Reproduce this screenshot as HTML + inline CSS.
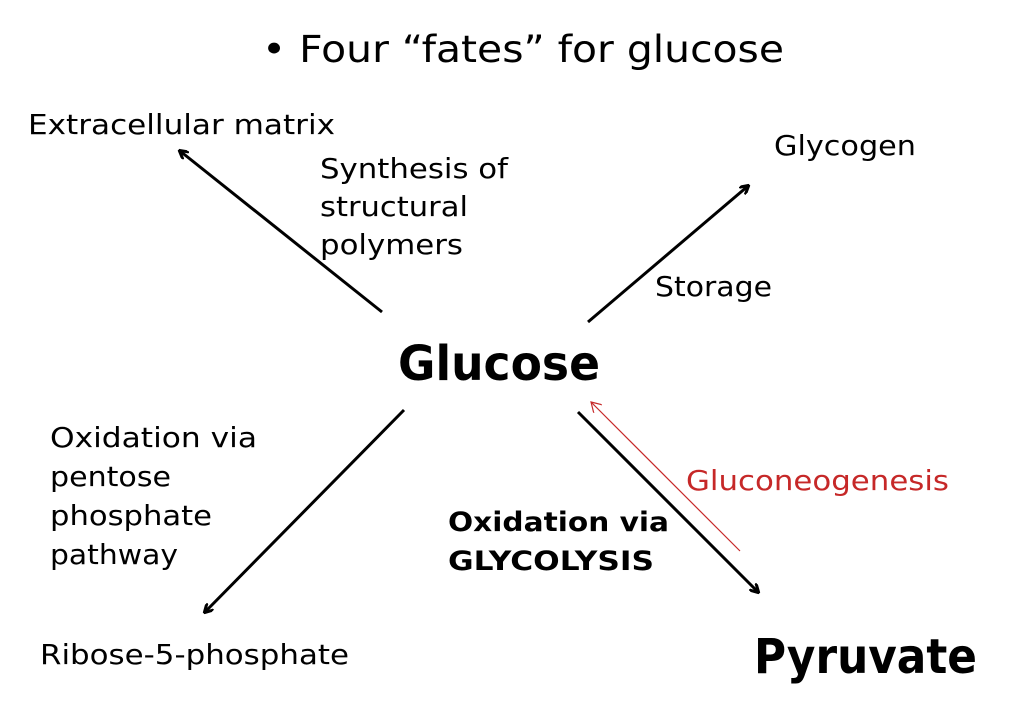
<!DOCTYPE html>
<html><head><style>body{margin:0;background:#fff}svg{display:block}text{font-family:"DejaVu Sans","Liberation Sans",sans-serif}</style></head>
<body>
<svg width="1024" height="704" viewBox="0 0 1024 704">
<defs>
<marker id="a" markerWidth="10" markerHeight="10" refX="8" refY="5" orient="auto" markerUnits="userSpaceOnUse"><path d="M0,0 L9,5 L0,10" fill="none" stroke="#000" stroke-width="3"/></marker>
<marker id="r" markerWidth="12" markerHeight="12" refX="10" refY="6" orient="auto" markerUnits="userSpaceOnUse"><path d="M0,0 L10,6 L0,12" fill="none" stroke="#c62828" stroke-width="1.2"/></marker>
</defs>
<text x="262" y="62" font-size="37" textLength="522" lengthAdjust="spacingAndGlyphs">• Four “fates” for glucose</text>
<text x="28" y="134" font-size="28" textLength="307" lengthAdjust="spacingAndGlyphs">Extracellular matrix</text>
<text x="320" y="178" font-size="28" textLength="188" lengthAdjust="spacingAndGlyphs">Synthesis of</text>
<text x="320" y="216" font-size="28" textLength="148" lengthAdjust="spacingAndGlyphs">structural</text>
<text x="320" y="254" font-size="28" textLength="143" lengthAdjust="spacingAndGlyphs">polymers</text>
<text x="774" y="155" font-size="28" textLength="142" lengthAdjust="spacingAndGlyphs">Glycogen</text>
<text x="655" y="296" font-size="28" textLength="117" lengthAdjust="spacingAndGlyphs">Storage</text>
<text x="398" y="380" font-size="48" font-weight="bold" textLength="202" lengthAdjust="spacingAndGlyphs">Glucose</text>
<text x="50" y="447" font-size="28" textLength="207" lengthAdjust="spacingAndGlyphs">Oxidation via</text>
<text x="50" y="486" font-size="28" textLength="121" lengthAdjust="spacingAndGlyphs">pentose</text>
<text x="50" y="525" font-size="28" textLength="162" lengthAdjust="spacingAndGlyphs">phosphate</text>
<text x="50" y="564" font-size="28" textLength="128" lengthAdjust="spacingAndGlyphs">pathway</text>
<text x="686" y="490" font-size="28" fill="#c62828" textLength="263" lengthAdjust="spacingAndGlyphs">Gluconeogenesis</text>
<text x="448" y="531" font-size="27" font-weight="bold" textLength="221" lengthAdjust="spacingAndGlyphs">Oxidation via</text>
<text x="448" y="570" font-size="27" font-weight="bold" textLength="206" lengthAdjust="spacingAndGlyphs">GLYCOLYSIS</text>
<text x="40" y="664" font-size="28" textLength="309" lengthAdjust="spacingAndGlyphs">Ribose-5-phosphate</text>
<text x="754" y="673" font-size="48" font-weight="bold" textLength="223" lengthAdjust="spacingAndGlyphs">Pyruvate</text>
<g stroke="#000" stroke-width="3" fill="none">
<line x1="382" y1="312" x2="180" y2="151" marker-end="url(#a)"/>
<line x1="588" y1="322" x2="748" y2="186" marker-end="url(#a)"/>
<line x1="404" y1="410" x2="205" y2="612" marker-end="url(#a)"/>
<line x1="578" y1="412" x2="758" y2="592" marker-end="url(#a)"/>
</g>
<line x1="740" y1="551" x2="591" y2="402" stroke="#c62828" stroke-width="1.2" marker-end="url(#r)"/>
</svg>
</body></html>
